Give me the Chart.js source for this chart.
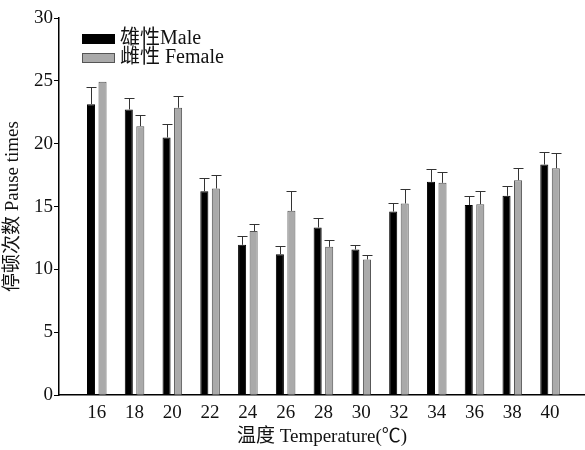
<!DOCTYPE html>
<html lang="zh">
<head>
<meta charset="UTF-8">
<title>Pause times</title>
<script src="https://cdn.jsdelivr.net/npm/chart.js"></script>
<style>
  html, body { margin: 0; padding: 0; background: #fff; overflow: hidden; }
  #box { width: 585px; height: 450px; }
</style>
</head>
<body>
<div id="box"><canvas id="pauseChart"></canvas></div>
<script>
// temperatures (℃)
const temps = [16, 18, 20, 22, 24, 26, 28, 30, 32, 34, 36, 38, 40];
// mean pause times
const maleVals   = [23.15, 22.73, 20.50, 16.23, 11.96, 11.22, 13.34, 11.59, 14.61, 16.97, 15.12, 15.86, 18.35];
const femaleVals = [24.92, 21.40, 22.86, 16.44, 13.05, 14.66, 11.80, 10.80, 15.25, 16.89, 15.19, 17.10, 18.06];
// upper error (SE)
const maleErr    = [1.33, 0.92, 1.04, 1.03, 0.67, 0.63, 0.72, 0.34, 0.64, 1.01, 0.74, 0.75, 1.00];
const femaleErr  = [0.00, 0.85, 0.90, 1.04, 0.58, 1.55, 0.51, 0.39, 1.16, 0.85, 1.09, 0.96, 1.17];
const yTicks = [0, 5, 10, 15, 20, 25, 30];

const serif = '"Liberation Serif", "Noto Sans CJK SC", serif';

// draw the upper error bars with a cap
const errorBars = {
  id: 'errorBars',
  afterDatasetsDraw(chart) {
    const ctx = chart.ctx;
    const y = chart.scales.y;
    chart.data.datasets.forEach((ds, i) => {
      const meta = chart.getDatasetMeta(i);
      meta.data.forEach((bar, j) => {
        const e = ds.errors[j];
        if (!e) return;
        const top = Math.round(y.getPixelForValue(ds.data[j].y + e)) + 0.5;
        const x = Math.round(bar.x) + 0.5;
        ctx.save();
        ctx.strokeStyle = '#333';
        ctx.lineWidth = 1;
        ctx.beginPath();
        ctx.moveTo(x, bar.y);
        ctx.lineTo(x, top);
        ctx.moveTo(x - 5, top);
        ctx.lineTo(x + 5, top);
        ctx.stroke();
        ctx.restore();
      });
    });
  }
};

// legend in the top-left corner of the plot
const cornerLegend = {
  id: 'cornerLegend',
  afterDraw(chart) {
    const ctx = chart.ctx;
    const a = chart.chartArea;
    ctx.save();
    ctx.font = '20px ' + serif;
    ctx.textBaseline = 'middle';
    chart.data.datasets.forEach((ds, i) => {
      const bx = a.left + 23, by = a.top + 16 + i * 19;
      ctx.fillStyle = ds.backgroundColor;
      ctx.fillRect(bx, by, 33, 10);
      ctx.strokeStyle = ds.borderColor;
      ctx.lineWidth = 1;
      ctx.strokeRect(bx + 0.5, by + 0.5, 32, 9);
      ctx.fillStyle = '#111';
      ctx.fillText(ds.label, bx + 38, by + 5);
    });
    ctx.restore();
  }
};

const ctx = document.getElementById('pauseChart').getContext('2d');
new Chart(ctx, {
  type: 'bar',
  data: {
    datasets: [
      {
        label: '雄性Male',
        data: temps.map((t, k) => ({ x: t, y: maleVals[k] })),
        errors: maleErr,
        backgroundColor: '#000',
        borderColor: '#000',
        borderWidth: 1
      },
      {
        label: '雌性 Female',
        data: temps.map((t, k) => ({ x: t, y: femaleVals[k] })),
        errors: femaleErr,
        backgroundColor: '#aaa',
        borderColor: '#555',
        borderWidth: 1
      }
    ]
  },
  options: {
    responsive: true,
    maintainAspectRatio: false,
    animation: false,
    categoryPercentage: 0.61,
    barPercentage: 0.70,
    layout: { padding: { top: 18, right: 0, bottom: 0, left: 0 } },
    plugins: {
      legend: { display: false },
      tooltip: { enabled: false }
    },
    scales: {
      x: {
        type: 'linear',
        offset: false,
        min: 14,
        max: 41.85,
        afterBuildTicks: s => { s.ticks = temps.map(v => ({ value: v })); },
        grid: { display: false },
        border: { display: true, color: '#000', width: 1.5 },
        ticks: { color: '#111', font: { family: serif, size: 19, lineHeight: 1.0 }, padding: 0, maxRotation: 0, autoSkip: false },
        title: {
          display: true,
          text: '温度 Temperature(℃)',
          color: '#111',
          font: { family: serif, size: 19 },
          padding: { top: 3, bottom: 2 }
        }
      },
      y: {
        min: 0,
        max: 30,
        afterBuildTicks: s => { s.ticks = yTicks.map(v => ({ value: v })); },
        afterFit: s => { s.width = 59; },
        grid: { display: true, drawOnChartArea: false, drawTicks: true, tickLength: 5, color: '#000' },
        border: { display: true, color: '#000', width: 1.5 },
        ticks: { color: '#111', font: { family: serif, size: 19 }, padding: 1 },
        title: {
          display: true,
          text: '停顿次数 Pause times',
          color: '#111',
          font: { family: serif, size: 19 },
          padding: { top: 2, bottom: 0 }
        }
      }
    }
  },
  plugins: [errorBars, cornerLegend]
});
</script>
</body>
</html>
